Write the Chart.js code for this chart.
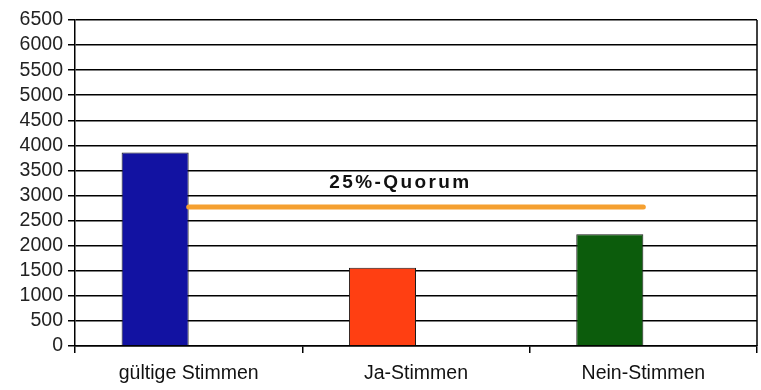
<!DOCTYPE html>
<html><head><meta charset="utf-8">
<script src="https://cdn.jsdelivr.net/npm/chart.js@4/dist/chart.umd.min.js"></script>
<style>html,body{margin:0;padding:0;background:#fff}#wrap{width:761px;height:390px}</style>
</head><body><div id="wrap"><canvas id="c"></canvas></div>
<script>
const categories = ['gültige Stimmen', 'Ja-Stimmen', 'Nein-Stimmen'];
const votes = [3860, 1560, 2230];
const quorum = [2770, 2770, 2770];
const quorumLabel = '25%-Quorum';
const yMax = 6500;
const yStep = 500;
const barColors = ['#1212a2', '#ff3f12', '#0c5c0c'];

const frame = {
  id: 'frame',
  afterDraw(chart) {
    const {ctx, chartArea: a, scales} = chart;
    ctx.save();
    ctx.strokeStyle = '#000';
    ctx.lineWidth = 1.5;
    ctx.beginPath();
    ctx.moveTo(a.right, a.top); ctx.lineTo(a.right, a.bottom);
    ctx.stroke();
    ctx.font = 'bold 19px "Liberation Sans", Arial, sans-serif';
    ctx.letterSpacing = '2.4px';
    ctx.fillStyle = '#111';
    ctx.textAlign = 'left';
    ctx.textBaseline = 'middle';
    const x = (scales.x.getPixelForValue(0) + scales.x.getPixelForValue(1)) / 2 + 27;
    const y = scales.y.getPixelForValue(quorum[1]) - 24;
    ctx.fillText(quorumLabel, x, y);
    ctx.restore();
  }
};

new Chart(document.getElementById('c'), {
  data: {
    labels: categories,
    datasets: [
      { type: 'line', data: quorum, borderColor: '#f5a030', borderWidth: 5, pointRadius: 0, borderCapStyle: 'round', order: 0 },
      { type: 'bar', data: votes, backgroundColor: barColors, borderColor: '#1a1a1a', borderWidth: 1, order: 1 },
      { type: 'bar', data: votes.map(() => null), order: 2 }
    ]
  },
  options: {
    responsive: true, maintainAspectRatio: false, animation: false,
    layout: { padding: { left: 0, right: 4, top: 20, bottom: 0 } },
    plugins: { legend: { display: false }, tooltip: { enabled: false } },
    datasets: { bar: { categoryPercentage: 0.59, barPercentage: 1 } },
    scales: {
      x: {
        grid: { display: true, drawOnChartArea: false, drawTicks: true, tickLength: 7, color: '#000', lineWidth: 1.5 },
        border: { display: true, color: '#000', width: 1.5 },
        ticks: { color: '#111', font: { family: '"Liberation Sans", Arial, sans-serif', size: 19.5 }, padding: 9 },
        afterFit(s) { s.height = 44; }
      },
      y: {
        min: 0, max: yMax,
        grid: { color: '#000', lineWidth: 1.5, tickLength: 7 },
        border: { display: true, color: '#000', width: 1.5 },
        ticks: { stepSize: yStep, autoSkip: false, callback: v => String(v), color: '#222', font: { family: '"Liberation Sans", Arial, sans-serif', size: 19.5 }, padding: 5 },
        afterFit(s) { s.width = 75; }
      }
    }
  },
  plugins: [frame]
});
</script></body></html>
